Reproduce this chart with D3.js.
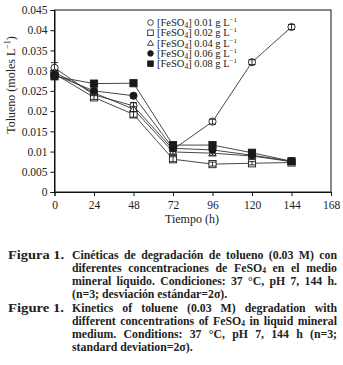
<!DOCTYPE html>
<html><head><meta charset="utf-8">
<script src="https://cdn.jsdelivr.net/npm/d3@7"></script>
<style>body{margin:0;background:#fff}svg{display:block}</style>
</head><body>
<script>
const times = [0, 24, 48, 72, 96, 120, 144];
const seriesNames = ["0.01", "0.02", "0.04", "0.06", "0.08"];
const s001 = [0.0307, 0.0240, 0.0213, 0.0105, 0.0174, 0.0321, 0.0408];
const s002 = [0.0292, 0.0234, 0.0192, 0.0081, 0.0069, 0.0071, 0.0073];
const s004 = [0.0296, 0.0245, 0.0205, 0.0099, 0.0096, 0.0089, 0.0075];
const s006 = [0.0290, 0.0250, 0.0238, 0.0108, 0.0104, 0.0091, 0.0076];
const s008 = [0.0286, 0.0268, 0.0269, 0.0116, 0.0116, 0.0097, 0.0076];
const e001 = [0.0013, 0.0005, 0.0008, 0.0005, 0.0006, 0.0006, 0.0006];
const e002 = [0.0005, 0.0005, 0.0007, 0.0006, 0.0005, 0.0004, 0.0004];
const e004 = [0.0005, 0.0005, 0.0006, 0.0005, 0.0005, 0.0004, 0.0004];
const e006 = [0.0005, 0.0005, 0.0005, 0.0005, 0.0005, 0.0004, 0.0004];
const e008 = [0.0005, 0.0004, 0.0004, 0.0005, 0.0005, 0.0004, 0.0004];
const xTicks = [0, 24, 48, 72, 96, 120, 144, 168];
const yTicks = [0, 0.005, 0.01, 0.015, 0.02, 0.025, 0.03, 0.035, 0.04, 0.045];
const values = [s001, s002, s004, s006, s008];
const errors = [e001, e002, e004, e006, e008];
const symbols = ["circle-open", "square-open", "triangle-open", "circle-filled", "square-filled"];

const W = 343, H = 365;
const svg = d3.select("body").append("svg").attr("width", W).attr("height", H);
const serif = "'Liberation Serif','DejaVu Serif',serif";
const x = d3.scaleLinear().domain([0, 168]).range([54.5, 331]);
const y = d3.scaleLinear().domain([0, 0.045]).range([192, 10]);

// frame
svg.append("rect").attr("x", x(0)).attr("y", y(0.045)).attr("width", x(168) - x(0)).attr("height", y(0) - y(0.045))
  .attr("fill", "none").attr("stroke", "#111").attr("stroke-width", 1);

const fmtY = d => d === 0 ? "0" : String(+d.toFixed(3));
const gy = svg.append("g").attr("transform", `translate(${x(0)},0)`)
  .call(d3.axisLeft(y).tickValues(yTicks).tickFormat(fmtY).tickSize(4).tickPadding(3));
const gx = svg.append("g").attr("transform", `translate(0,${y(0)})`)
  .call(d3.axisBottom(x).tickValues(xTicks).tickFormat(d3.format("d")).tickSize(4).tickPadding(5));
[gx, gy].forEach(g => {
  g.select(".domain").attr("stroke", "#111");
  g.selectAll(".tick line").attr("stroke", "#111");
  g.selectAll("text").attr("font-family", serif).attr("font-size", 11.5).attr("fill", "#222");
});

// axis labels
svg.append("text").attr("x", x(72) + 19).attr("y", 223).attr("text-anchor", "middle")
  .attr("font-family", serif).attr("font-size", 12).attr("fill", "#222").text("Tiempo (h)");
const yl = svg.append("text").attr("transform", "translate(15,85) rotate(-90)").attr("text-anchor", "middle")
  .attr("font-family", serif).attr("font-size", 12).attr("fill", "#222");
yl.append("tspan").text("Tolueno (moles L");
yl.append("tspan").attr("dy", -5).attr("font-size", 8).text("−1");
yl.append("tspan").attr("dy", 5).text(")");

// lines
const line = d3.line().x((d, i) => x(times[i])).y(d => y(d));
values.forEach(v => {
  svg.append("path").attr("d", line(v)).attr("fill", "none").attr("stroke", "#333").attr("stroke-width", 0.9);
});

function drawSymbol(g, type, cx, cy) {
  const s = 3.6;
  if (type.startsWith("circle")) {
    g.append("circle").attr("cx", cx).attr("cy", cy).attr("r", s)
      .attr("fill", type.endsWith("filled") ? "#1a1a1a" : "#fff").attr("stroke", "#1a1a1a").attr("stroke-width", 0.9);
  } else if (type.startsWith("square")) {
    g.append("rect").attr("x", cx - s).attr("y", cy - s).attr("width", 2 * s).attr("height", 2 * s)
      .attr("fill", type.endsWith("filled") ? "#1a1a1a" : "#fff").attr("stroke", "#1a1a1a").attr("stroke-width", 0.9);
  } else {
    const r = 4;
    g.append("path").attr("d", `M${cx},${cy - r}L${cx + r * 0.95},${cy + r * 0.7}L${cx - r * 0.95},${cy + r * 0.7}Z`)
      .attr("fill", "#fff").attr("stroke", "#1a1a1a").attr("stroke-width", 0.9);
  }
}

// error bars and markers
values.forEach((v, si) => {
  const g = svg.append("g");
  v.forEach((d, i) => {
    drawSymbol(g, symbols[si], x(times[i]), y(d));
    const e = errors[si][i];
    const cx = x(times[i]);
    g.append("line").attr("x1", cx).attr("x2", cx).attr("y1", y(d - e)).attr("y2", y(d + e)).attr("stroke", "#1a1a1a").attr("stroke-width", 0.9);
    [d - e, d + e].forEach(b => g.append("line").attr("x1", cx - 3.5).attr("x2", cx + 3.5).attr("y1", y(b)).attr("y2", y(b)).attr("stroke", "#1a1a1a").attr("stroke-width", 0.9));
  });
});

// legend
const lg = svg.append("g");
seriesNames.forEach((n, i) => {
  const ly = 22.5 + i * 10.3;
  const g = lg.append("g");
  const s = 2.8;
  const t = symbols[i];
  const cx = 150.5;
  if (t.startsWith("circle")) g.append("circle").attr("cx", cx).attr("cy", ly).attr("r", s).attr("fill", t.endsWith("filled") ? "#1a1a1a" : "#fff").attr("stroke", "#1a1a1a").attr("stroke-width", 0.8);
  else if (t.startsWith("square")) g.append("rect").attr("x", cx - s).attr("y", ly - s).attr("width", 2 * s).attr("height", 2 * s).attr("fill", t.endsWith("filled") ? "#1a1a1a" : "#fff").attr("stroke", "#1a1a1a").attr("stroke-width", 0.8);
  else g.append("path").attr("d", `M${cx},${ly - 3}L${cx + 3},${ly + 2.2}L${cx - 3},${ly + 2.2}Z`).attr("fill", "#fff").attr("stroke", "#1a1a1a").attr("stroke-width", 0.8);
  const tx = g.append("text").attr("x", 157).attr("y", ly + 3.5).attr("font-family", serif).attr("font-size", 10.5).attr("fill", "#222");
  tx.append("tspan").text("[FeSO");
  tx.append("tspan").attr("dy", 2).attr("font-size", 7.5).text("4");
  tx.append("tspan").attr("dy", -2).text("] " + n + " g L");
  tx.append("tspan").attr("dy", -4).attr("font-size", 7).text("−1");
});

// caption
const capLines = [
  {label: "Figura 1.", text: "Cinéticas de degradación de tolueno (0.03 M) con", y: 259, j: true},
  {text: "diferentes concentraciones de FeSO|4| en el medio", y: 272, j: true},
  {text: "mineral líquido. Condiciones: 37 °C, pH 7, 144 h.", y: 285, j: true},
  {text: "(n=3; desviación estándar=2σ).", y: 298, j: false},
  {label: "Figure 1.", text: "Kinetics of toluene (0.03 M) degradation with", y: 312, j: true},
  {text: "different concentrations of FeSO|4| in liquid mineral", y: 325, j: true},
  {text: "medium. Conditions: 37 °C, pH 7, 144 h (n=3;", y: 338, j: true},
  {text: "standard deviation=2σ).", y: 351, j: false}
];
const capFS = 11.8, capX = 72, capRight = 337;
capLines.forEach(l => {
  if (l.label) svg.append("text").attr("x", 8).attr("y", l.y).attr("font-family", serif).attr("font-weight", "bold")
    .attr("font-size", capFS).attr("fill", "#222").attr("textLength", 56).attr("lengthAdjust", "spacingAndGlyphs").text(l.label);
  const t = svg.append("text").attr("x", capX).attr("y", l.y).attr("font-family", serif).attr("font-weight", "bold")
    .attr("font-size", capFS).attr("fill", "#222");
  const parts = l.text.split("|");
  parts.forEach((p, k) => {
    if (k === 1) t.append("tspan").attr("dy", 1.2).attr("font-size", 7.5).text(p);
    else t.append("tspan").attr("dy", k === 2 ? -1.2 : 0).text(p);
  });
  if (l.j) {
    const len = t.node().getComputedTextLength();
    const target = capRight - capX;
    const nSp = (l.text.match(/ /g) || []).length;
    if (len < target && nSp > 0) t.attr("word-spacing", (target - len) / nSp);
    else if (len > target) t.attr("textLength", target).attr("lengthAdjust", "spacingAndGlyphs");
  }
});
</script>
</body></html>
